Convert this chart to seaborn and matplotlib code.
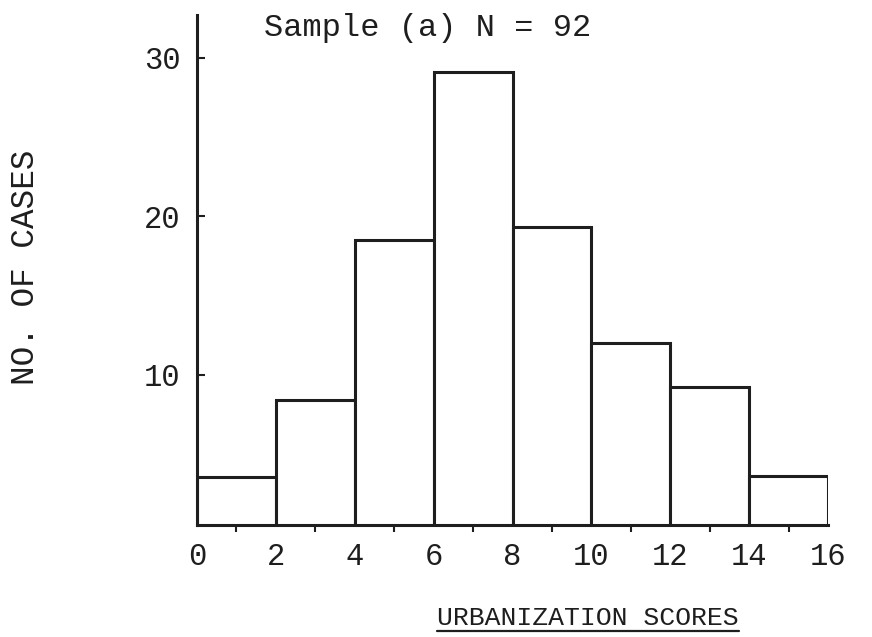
import matplotlib
matplotlib.use("Agg")
import matplotlib.pyplot as plt
from matplotlib.lines import Line2D
from matplotlib.ticker import MultipleLocator
import seaborn as sns
import pandas as pd

# ---- data ----
bin_edges = [0, 2, 4, 6, 8, 10, 12, 14, 16]
bin_centers = [1, 3, 5, 7, 9, 11, 13, 15]
counts = [3.5, 8.4, 18.5, 29.1, 19.3, 12.0, 9.2, 3.6]
x_ticks = [0, 2, 4, 6, 8, 10, 12, 14, 16]
y_ticks = [10, 20, 30]
title_text = "Sample (a) N = 92"
xlabel_text = "URBANIZATION SCORES"
ylabel_text = "NO. OF CASES"

sns.set_theme(style="white")
plt.rcParams['font.family'] = ['Liberation Mono', 'DejaVu Sans Mono']
ink = "#1e1e1e"
W, H = 872, 637

fig = plt.figure(figsize=(W / 100, H / 100), dpi=100)
fig.patch.set_facecolor("white")
ax = fig.add_axes([197 / W, 112 / H, 631 / W, 510 / H])
ax.set_facecolor("white")

df = pd.DataFrame({"score": bin_centers, "cases": counts})
sns.histplot(data=df, x="score", weights="cases", bins=bin_edges, stat="count",
             fill=True, color="white", edgecolor=ink, linewidth=2.2, alpha=1,
             ax=ax)

ax.set_xlim(0, 16)
ax.set_ylim(0.5, 32.7)
for s in ["top", "right"]:
    ax.spines[s].set_visible(False)
for s in ["left", "bottom"]:
    ax.spines[s].set_color(ink)
    ax.spines[s].set_linewidth(2.2)

ax.set_xticks(x_ticks)
ax.set_xticklabels([str(v) for v in x_ticks])
ax.xaxis.set_minor_locator(MultipleLocator(1))
ax.set_yticks(y_ticks)
ax.set_yticklabels([str(v) for v in y_ticks])
ax.tick_params(axis='x', which='major', bottom=True, length=0, pad=12,
               labelsize=22, labelcolor=ink)
ax.tick_params(axis='x', which='minor', bottom=True, length=5, width=1.5,
               direction='out', color=ink)
ax.tick_params(axis='y', which='major', left=True, length=6, width=1.5,
               direction='in', pad=12, labelsize=22, labelcolor=ink, color=ink)
ax.set_xlabel("")
ax.set_ylabel("")

fig.text(428 / W, 1 - 28 / H, title_text, ha="center", va="center",
         fontsize=23, color=ink)
fig.text(26 / W, 1 - 267 / H, ylabel_text, ha="center", va="center",
         rotation=90, fontsize=23.5, color=ink)
xl = fig.text(588 / W, 1 - 618 / H, xlabel_text, ha="center", va="center",
              fontsize=19, color=ink)

fig.canvas.draw()
bb = xl.get_window_extent(fig.canvas.get_renderer())
uy = (bb.y0 - 1) / H
fig.add_artist(Line2D([bb.x0 / W, bb.x1 / W], [uy, uy],
                      transform=fig.transFigure, color=ink, linewidth=1.6))

fig.savefig("out.png", dpi=100)
